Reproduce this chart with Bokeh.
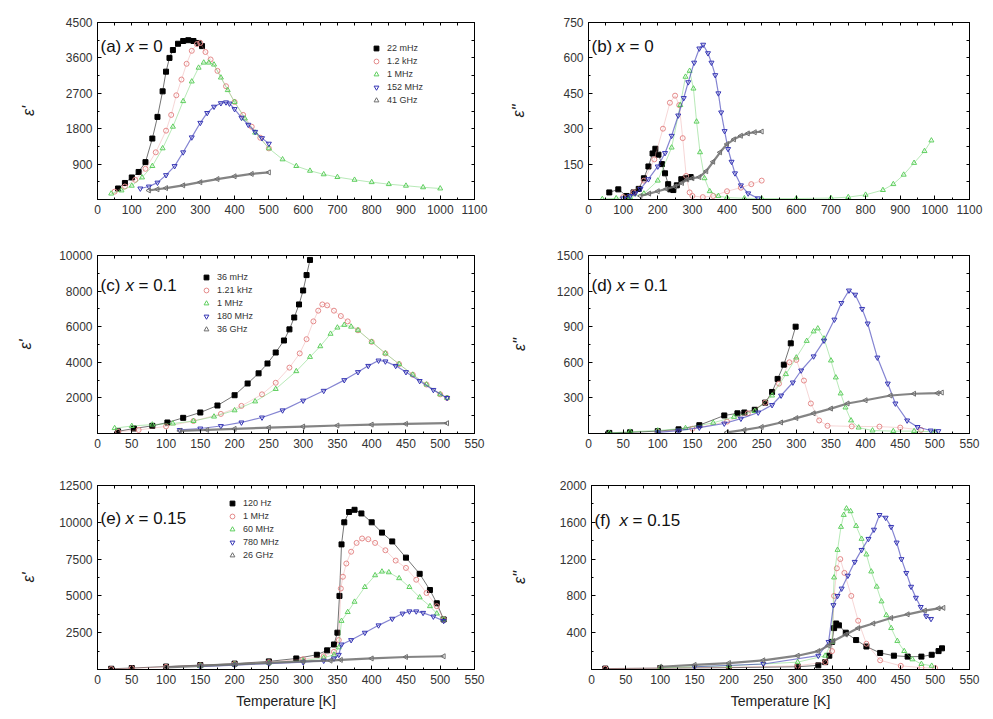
from math import pi

from bokeh.plotting import figure
from bokeh.models import LinearAxis, FixedTicker, Label, Legend, LegendItem, Range1d
from bokeh.layouts import column, row
from bokeh.embed import file_html
from bokeh.resources import INLINE

FONT = "Liberation Sans"

# ---------------- (a) x = 0, real permittivity ----------------
a_labels = ["22 mHz", "1.2 kHz", "1 MHz", "152 MHz", "41 GHz"]
a_T1 = [60, 80, 100, 120, 140, 160, 175, 190, 200, 210, 220, 235, 250, 265, 280, 295, 305]
a_E1 = [280, 420, 560, 700, 950, 1550, 2100, 2750, 3250, 3600, 3800, 3960, 4030, 4050, 4030, 3980, 3900]
a_T2 = [50, 80, 110, 140, 170, 200, 215, 230, 245, 260, 275, 290, 300, 315, 330, 350, 375, 400, 425, 450, 475, 500]
a_E2 = [200, 330, 500, 780, 1200, 1750, 2150, 2650, 3050, 3450, 3780, 3950, 3980, 3750, 3560, 3270, 2880, 2480, 2150, 1850, 1570, 1300]
a_T3 = [40, 70, 100, 130, 160, 190, 220, 250, 275, 295, 310, 325, 340, 360, 380, 400, 430, 460, 500, 540,
        580, 620, 660, 700, 750, 800, 850, 900, 950, 1000]
a_E3 = [150, 230, 350, 560, 850, 1300, 1850, 2500, 3000, 3350, 3480, 3480, 3430, 3100, 2780, 2480, 2060, 1700, 1300, 1020,
        850, 730, 640, 570, 500, 440, 390, 350, 310, 280]
a_T4 = [125, 150, 175, 200, 225, 250, 275, 300, 320, 340, 360, 375, 385, 400, 420, 440, 460, 480, 500]
a_E4 = [280, 330, 430, 620, 850, 1200, 1580, 1950, 2200, 2360, 2450, 2470, 2440, 2300, 2080, 1900, 1720, 1560, 1420]
a_T5 = [150, 175, 200, 250, 300, 350, 400, 450, 500]
a_E5 = [230, 260, 290, 360, 440, 520, 590, 650, 690]

# ---------------- (b) x = 0, imaginary permittivity ----------------
b_T1 = [60, 86, 110, 130, 145, 160, 173, 185, 193, 202, 212, 221, 230, 236, 245, 255, 268, 280, 295]
b_E1 = [30, 43, 15, 30, 45, 90, 140, 195, 215, 190, 150, 111, 65, 43, 40, 60, 86, 90, 95]
b_T2 = [100, 130, 160, 190, 215, 235, 250, 262, 272, 282, 292, 300, 330, 360, 400, 440, 470, 500]
b_E2 = [10, 30, 80, 170, 300, 410, 440, 400, 260, 100, 30, 15, 10, 15, 35, 50, 65, 80]
b_T3 = [40, 80, 120, 160, 200, 240, 265, 280, 292, 303, 312, 322, 335, 350, 375, 400, 450, 500, 600, 700,
        750, 800, 850, 880, 910, 940, 970, 990]
b_E3 = [2, 5, 10, 25, 80, 220, 400, 520, 545, 470, 330, 200, 90, 35, 15, 8, 5, 4, 4, 6,
        10, 20, 40, 65, 105, 155, 205, 250]
b_T4 = [100, 120, 135, 150, 173, 200, 221, 240, 259, 275, 288, 305, 320, 331, 345, 355, 366, 375, 383, 393,
        403, 413, 423, 440, 461, 489]
b_E4 = [5, 15, 26, 45, 86, 140, 197, 270, 356, 430, 497, 580, 640, 656, 620, 580, 527, 450, 369, 290,
        214, 160, 111, 60, 26, 5]
b_T5 = [150, 175, 200, 225, 250, 270, 285, 300, 320, 340, 360, 380, 400, 420, 440, 460, 480, 500]
b_E5 = [15, 25, 35, 45, 55, 70, 85, 90, 95, 120, 160, 200, 235, 255, 270, 280, 285, 288]

# ---------------- (c) x = 0.1, real permittivity ----------------
c_labels = ["36 mHz", "1.21 kHz", "1 MHz", "180 MHz", "36 GHz"]
c_T1 = [30, 53, 80, 102, 125, 150, 175, 200, 219, 235, 248, 260, 272, 280, 287, 294, 300, 305, 310]
c_E1 = [120, 281, 430, 618, 880, 1180, 1573, 2150, 2809, 3380, 3933, 4550, 5225, 5850, 6517, 7250, 8034, 8900, 9750]
c_T2 = [30, 60, 100, 140, 180, 210, 240, 260, 280, 295, 305, 315, 322, 328, 335, 345, 355, 365, 380, 400,
        420, 440, 460, 480, 500, 510]
c_E2 = [100, 200, 400, 700, 1100, 1550, 2200, 2850, 3700, 4500, 5300, 6300, 6900, 7250, 7200, 6900, 6600, 6300, 5800, 5150,
        4500, 3900, 3300, 2750, 2200, 2000]
c_T3 = [25, 50, 80, 110, 140, 170, 200, 230, 260, 290, 310, 325, 340, 350, 360, 370, 380, 400, 420, 440,
        460, 480, 500, 510]
c_E3 = [300, 420, 500, 560, 700, 950, 1300, 1800, 2500, 3500, 4300, 4900, 5600, 5950, 6100, 6000, 5800, 5150, 4500, 3900,
        3300, 2750, 2200, 2000]
c_T4 = [120, 150, 180, 210, 240, 270, 300, 330, 360, 380, 395, 410, 420, 435, 450, 470, 490, 510]
c_E4 = [200, 280, 420, 620, 900, 1300, 1850, 2400, 3000, 3450, 3800, 4100, 4050, 3800, 3450, 2950, 2450, 2000]
c_T5 = [120, 160, 200, 250, 300, 350, 400, 450, 510]
c_E5 = [150, 200, 260, 330, 390, 450, 500, 540, 580]

# ---------------- (d) x = 0.1, imaginary permittivity ----------------
d_T1 = [30, 60, 100, 130, 160, 196, 215, 225, 240, 255, 265, 273, 282, 292, 299]
d_E1 = [5, 10, 20, 35, 70, 152, 170, 177, 200, 260, 350, 460, 580, 760, 900]
d_T2 = [100, 150, 200, 230, 255, 275, 290, 300, 311, 321, 333, 345, 380, 420, 450, 480]
d_E2 = [15, 40, 100, 170, 260, 420, 600, 620, 446, 253, 110, 65, 60, 58, 50, 30]
d_T3 = [30, 60, 100, 140, 180, 210, 240, 265, 285, 300, 315, 325, 331, 340, 350, 357, 364, 371, 379, 390,
        410, 440, 470, 500]
d_E3 = [5, 15, 25, 45, 90, 140, 190, 320, 500, 640, 780, 860, 885, 800, 615, 472, 337, 219, 110, 50,
        25, 20, 20, 15]
d_T4 = [100, 130, 160, 196, 220, 245, 265, 278, 295, 307, 325, 340, 355, 365, 376, 385, 395, 403, 417, 432,
        443, 460, 475, 494, 505]
d_E4 = [10, 25, 50, 84, 125, 177, 240, 320, 430, 531, 650, 783, 960, 1100, 1205, 1170, 1050, 927, 640, 421,
        253, 110, 55, 25, 20]
d_T5 = [200, 225, 250, 278, 300, 325, 350, 374, 400, 436, 470, 504, 510]
d_E5 = [10, 30, 55, 93, 130, 170, 210, 253, 280, 320, 335, 340, 345]

# ---------------- (e) x = 0.15, real permittivity ----------------
e_labels = ["120 Hz", "1 MHz", "60 MHz", "780 MHz", "26 GHz"]
e_T1 = [20, 50, 100, 150, 200, 250, 290, 320, 335, 345, 350, 353, 356, 360, 367, 375, 385, 400, 415, 430,
        450, 470, 485, 495, 505]
e_E1 = [50, 100, 200, 300, 400, 550, 750, 1000, 1300, 1700, 2500, 5000, 8500, 10000, 10700, 10850, 10600, 10000, 9300, 8700,
        7600, 6500, 5400, 4500, 3400]
e_T2 = [20, 50, 100, 150, 200, 250, 300, 330, 345, 352, 355, 358, 363, 370, 378, 386, 395, 405, 420, 435,
        450, 465, 480, 495, 505]
e_E2 = [30, 80, 180, 280, 380, 500, 700, 900, 1200, 2000, 5500, 6300, 7200, 8000, 8600, 8900, 8850, 8600, 8100, 7400,
        6900, 6100, 5200, 4300, 3400]
e_T3 = [150, 200, 250, 300, 330, 345, 352, 356, 365, 375, 390, 405, 415, 425, 440, 455, 470, 485, 495, 505]
e_E3 = [250, 350, 450, 600, 800, 1000, 1500, 3300, 3900, 4600, 5600, 6400, 6650, 6600, 6200, 5600, 4900, 4300, 3800, 3400]
e_T4 = [150, 200, 250, 300, 330, 345, 352, 356, 370, 390, 410, 430, 445, 455, 465, 475, 490, 505]
e_E4 = [200, 300, 400, 500, 600, 750, 1000, 1700, 2000, 2500, 3000, 3450, 3800, 3950, 3950, 3850, 3600, 3300]
e_T5 = [100, 150, 200, 250, 300, 340, 355, 400, 450, 505]
e_E5 = [150, 250, 350, 450, 550, 600, 650, 750, 850, 900]

# ---------------- (f) x = 0.15, imaginary permittivity ----------------
f_T1 = [20, 100, 200, 300, 330, 340, 346, 350, 353, 356, 360, 370, 385, 400, 420, 440, 460, 480, 495, 505, 510]
f_E1 = [10, 15, 20, 30, 45, 80, 150, 300, 450, 500, 480, 400, 320, 250, 180, 150, 140, 140, 160, 200, 230]
f_T2 = [20, 100, 200, 300, 340, 350, 353, 357, 362, 368, 378, 388, 400, 420, 450, 480, 500]
f_E2 = [10, 15, 25, 40, 80, 200, 800, 1100, 1200, 1050, 800, 530, 280, 100, 40, 20, 15]
f_T3 = [100, 200, 300, 340, 350, 353, 358, 363, 367, 371, 377, 385, 393, 400, 407, 415, 422, 429, 436, 445,
        455, 467, 480, 495]
f_E3 = [20, 40, 80, 150, 300, 1000, 1300, 1550, 1680, 1750, 1720, 1560, 1420, 1250, 1065, 900, 740, 590, 450, 310,
        200, 110, 60, 40]
f_T4 = [150, 250, 330, 345, 352, 358, 364, 373, 383, 393, 403, 411, 419, 428, 436, 444, 451, 458, 465, 472,
        479, 487, 494]
f_E4 = [30, 60, 150, 300, 700, 800, 880, 1020, 1170, 1300, 1420, 1520, 1680, 1650, 1550, 1380, 1200, 1050, 900, 780,
        680, 580, 550]
f_T5 = [100, 150, 200, 250, 300, 330, 345, 352, 370, 388, 410, 436, 460, 485, 505, 512]
f_E5 = [30, 50, 70, 100, 150, 200, 260, 310, 380, 450, 500, 560, 600, 640, 665, 670]

# marker style for the five frequencies of every panel
MARKERS = ["square", "circle", "triangle", "inverted_triangle", "triangle"]
ANGLES = [0, 0, 0, 0, pi / 2]
COLORS = ["#000000", "#e58a8a", "#5fcf5f", "#3434b4", "#6e6e6e"]
FILLED = [True, False, False, False, False]
LINE_W = [1.0, 1.0, 1.0, 1.2, 2.2]
LINE_A = [0.55, 0.35, 0.45, 0.6, 0.85]


def minor(ticks, step):
    return [t - step / 2 for t in ticks] + [ticks[-1] + step / 2]


def make_panel(series, xmax, xstep, ymax, ystep, ylabel, tag, xval, label_y,
               width, left, right, height, top, bottom, ylabel_standoff,
               legend_labels=None, legend_loc=None, xlabel=None):
    p = figure(width=width, height=height, x_range=Range1d(0, xmax), y_range=Range1d(0, ymax),
               output_backend="svg", toolbar_location=None,
               min_border_left=left, min_border_right=right,
               min_border_top=top, min_border_bottom=bottom)
    p.xgrid.visible = False
    p.ygrid.visible = False
    p.outline_line_color = "black"
    p.outline_line_width = 1

    xt = list(range(0, xmax + 1, xstep))
    yt = list(range(ystep, ymax + 1, ystep))
    xminor = minor(xt, xstep)
    yminor = minor([0] + yt, ystep)
    p.xaxis.ticker = FixedTicker(ticks=xt, minor_ticks=xminor)
    p.yaxis.ticker = FixedTicker(ticks=yt, minor_ticks=yminor)
    for ax in (p.xaxis[0], p.yaxis[0]):
        ax.major_tick_in = 4
        ax.major_tick_out = 0
        ax.minor_tick_in = 2
        ax.minor_tick_out = 0
        ax.major_label_text_font = FONT
        ax.major_label_text_font_size = "12px"
        ax.major_label_text_color = "#333333"
        ax.axis_line_color = "black"
        ax.major_label_standoff = 5
    p.yaxis.axis_label = ylabel
    p.yaxis.axis_label_text_font = FONT
    p.yaxis.axis_label_text_font_size = "16px"
    p.yaxis.axis_label_text_font_style = "italic"
    p.yaxis.axis_label_text_color = "#222222"
    p.yaxis.axis_label_standoff = ylabel_standoff
    if xlabel:
        p.xaxis.axis_label = xlabel
        p.xaxis.axis_label_text_font = FONT
        p.xaxis.axis_label_text_font_size = "14px"
        p.xaxis.axis_label_text_font_style = "normal"
        p.xaxis.axis_label_text_color = "#222222"
        p.xaxis.axis_label_standoff = 6

    # mirrored tick marks on the top and right edges of the frame (no labels)
    for loc, ticks in (("above", sorted(xt + xminor)), ("right", sorted([0] + yt + yminor))):
        ax = LinearAxis(ticker=FixedTicker(ticks=[], minor_ticks=ticks),
                        minor_tick_in=3, minor_tick_out=0, major_tick_in=0, major_tick_out=0,
                        axis_line_color="black")
        p.add_layout(ax, loc)

    items = []
    for i, (T, E) in enumerate(series):
        c = COLORS[i]
        p.line(T, E, line_color=c, line_width=LINE_W[i], line_alpha=LINE_A[i])
        r = p.scatter(T, E, marker=MARKERS[i], angle=ANGLES[i], size=5,
                      line_color=c, line_width=1,
                      fill_color=c if FILLED[i] else "white", fill_alpha=1.0 if FILLED[i] else 0.0)
        if legend_labels:
            items.append(LegendItem(label=legend_labels[i], renderers=[r]))

    if items:
        lg = Legend(items=items, location=legend_loc, background_fill_alpha=0, border_line_alpha=0,
                    label_text_font=FONT, label_text_font_size="9px", label_text_color="#333333",
                    glyph_height=12, glyph_width=12, label_height=12, label_standoff=5,
                    spacing=1, padding=0, margin=0)
        p.add_layout(lg)

    # panel tag, e.g. "(a) x = 0" with the composition symbol in italics
    common = dict(x=0, y=label_y, text_font=FONT, text_font_size="17px", text_color="#111111",
                  text_baseline="middle")
    p.add_layout(Label(text=tag, x_offset=3, **common))
    p.add_layout(Label(text="x", x_offset=28, text_font_style="italic", **common))
    p.add_layout(Label(text="= " + xval, x_offset=41, **common))
    return p


L = dict(width=507, left=97, right=33)
R = dict(width=486, left=80, right=24)
ROW1 = dict(height=229, top=22, bottom=30)
ROW2 = dict(height=230, top=26, bottom=26)
ROW3 = dict(height=260, top=26, bottom=50)

pa = make_panel([(a_T1, a_E1), (a_T2, a_E2), (a_T3, a_E3), (a_T4, a_E4), (a_T5, a_E5)],
                1100, 100, 4500, 900, "ε'", "(a)", "0", 3890, ylabel_standoff=26,
                legend_labels=a_labels, legend_loc=(273, 93), **L, **ROW1)
pb = make_panel([(b_T1, b_E1), (b_T2, b_E2), (b_T3, b_E3), (b_T4, b_E4), (b_T5, b_E5)],
                1100, 100, 750, 150, "ε''", "(b)", "0", 648, ylabel_standoff=33, **R, **ROW1)
pc = make_panel([(c_T1, c_E1), (c_T2, c_E2), (c_T3, c_E3), (c_T4, c_E4), (c_T5, c_E5)],
                550, 50, 10000, 2000, "ε'", "(c)", "0.1", 8315, ylabel_standoff=22,
                legend_labels=c_labels, legend_loc=(103, 98), **L, **ROW2)
pd_ = make_panel([(d_T1, d_E1), (d_T2, d_E2), (d_T3, d_E3), (d_T4, d_E4), (d_T5, d_E5)],
                 550, 50, 1500, 300, "ε''", "(d)", "0.1", 1247, ylabel_standoff=26, **R, **ROW2)
pe = make_panel([(e_T1, e_E1), (e_T2, e_E2), (e_T3, e_E3), (e_T4, e_E4), (e_T5, e_E5)],
                550, 50, 12500, 2500, "ε'", "(e)", "0.15", 10258, ylabel_standoff=19,
                legend_labels=e_labels, legend_loc=(129, 108), xlabel="Temperature [K]", **L, **ROW3)
pf = make_panel([(f_T1, f_E1), (f_T2, f_E2), (f_T3, f_E3), (f_T4, f_E4), (f_T5, f_E5)],
                550, 50, 2000, 400, "ε''", "(f)", "0.15", 1620, ylabel_standoff=29,
                xlabel="Temperature [K]", **R, **ROW3)

layout = column(row(pa, pb), row(pc, pd_), row(pe, pf))
open("out.html", "w").write(file_html(layout, INLINE))
